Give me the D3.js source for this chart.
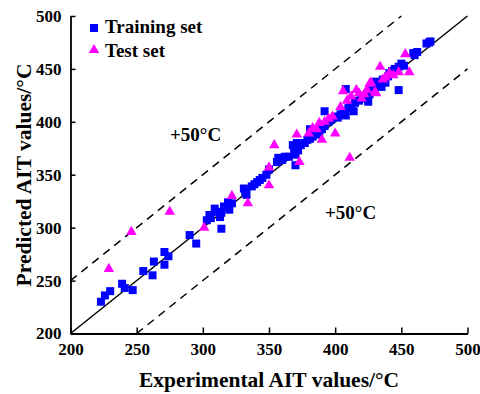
<!DOCTYPE html>
<html><head><meta charset="utf-8">
<script src="https://cdn.jsdelivr.net/npm/d3@7"></script>
<style>body{margin:0;background:#fff}svg{display:block}text{font-family:"Liberation Serif","Times New Roman",serif;font-weight:bold}</style>
</head><body><svg id="c" width="480" height="394"></svg>
<script>
const trainExp = [223,226,230,239,241,247,255,262,263,271,274,271,290,295,303,305,306,309,310,313,314,314,316,319,320,322,331,332,333,337,339,341,343,345,348,350,356,357,360,362,365,368,370,370,372,374,377,379,381,383,386,381,388,390,392,392,395,397,400,402,404,406,408,408,410,412,414,415,418,420,423,425,426,428,430,431,433,435,436,438,440,441,443,445,448,448,450,452,459,460,462,469,472,471,371,369];
const trainPred = [230,236,240,247,243,241,259,255,268,277,273,265,293,285,307,312,309,318,315,310,299,314,320,324,317,323,337,334,331,339,341,343,345,347,350,355,362,366,364,367,367,378,359,369,373,378,380,383,384,386,388,393,390,393,396,410,400,402,405,404,407,410,431,406,413,415,410,418,420,423,422,419,426,430,432,438,435,433,440,437,443,446,448,450,452,430,455,453,465,463,466,474,476,475,380,372];
const testExp = [229,246,275,301,322,334,350,350,354,371,373,380,383,386,388,390,392,395,398,400,404,406,409,411,412,416,418,420,422,424,426,427,430,431,434,436,438,441,444,448,453,456];
const testPred = [261,296,315,300,330,323,340,357,378,388,362,389,394,393,399,383,400,403,405,389,414,429,420,366,424,430,427,422,426,430,436,437,428,427,452,440,442,446,444,447,464,447];
const tickValues = [200,250,300,350,400,450,500];
const seriesNames = ["Training set","Test set"];
const xTitle = "Experimental AIT values/°C";
const yTitle = "Predicted AIT values/°C";
const bandLabel = "+50°C";

const svg = d3.select("#c");
const x = d3.scaleLinear().domain([200,500]).range([70.5,467.5]);
const y = d3.scaleLinear().domain([200,500]).range([333.5,16]);

// reference lines
const line = d3.line().x(d=>x(d[0])).y(d=>y(d[1]));
svg.append("path").attr("d", line([[200,200],[500,500]])).attr("stroke","#000").attr("stroke-width",1.5).attr("fill","none");
svg.append("path").attr("d", line([[200,250],[450,500]])).attr("stroke","#000").attr("stroke-width",1.5).attr("stroke-dasharray","8,6").attr("fill","none");
svg.append("path").attr("d", line([[250,200],[500,450]])).attr("stroke","#000").attr("stroke-width",1.5).attr("stroke-dasharray","8,6").attr("fill","none");

// axes
const xAxis = d3.axisBottom(x).tickValues(tickValues).tickSizeInner(-6).tickSizeOuter(0).tickPadding(9);
const yAxis = d3.axisLeft(y).tickValues(tickValues).tickSizeInner(-5).tickSizeOuter(0).tickPadding(9);
const gx = svg.append("g").attr("transform","translate(0,333.5)").call(xAxis);
const gy = svg.append("g").attr("transform","translate(70.5,0)").call(yAxis);
[gx,gy].forEach(g=>{
  g.select(".domain").attr("stroke","#000").attr("stroke-width",1.8);
  g.selectAll(".tick line").attr("stroke","#000").attr("stroke-width",1.5);
  g.selectAll(".tick text").attr("font-size",17).attr("font-family","Liberation Serif").attr("font-weight","bold").attr("fill","#000");
});

// points
const sq = 8;
svg.append("g").selectAll("rect").data(trainExp.map((v,i)=>[v,trainPred[i]])).join("rect")
  .attr("x",d=>x(d[0])-sq/2).attr("y",d=>y(d[1])-sq/2).attr("width",sq).attr("height",sq).attr("fill","#0000ff");
const tri = d3.symbol().type(d3.symbolTriangle).size(48);
svg.append("g").selectAll("path").data(testExp.map((v,i)=>[v,testPred[i]])).join("path")
  .attr("d",tri).attr("transform",d=>`translate(${x(d[0])},${y(d[1])})`).attr("fill","#ff00ff");

// legend
svg.append("rect").attr("x",90).attr("y",24).attr("width",8).attr("height",8).attr("fill","#0000ff");
svg.append("text").attr("x",105).attr("y",33).attr("font-size",19).text(seriesNames[0]);
svg.append("path").attr("d",tri).attr("transform","translate(94,50)").attr("fill","#ff00ff");
svg.append("text").attr("x",105).attr("y",57).attr("font-size",19).text(seriesNames[1]);

// band labels
svg.append("text").attr("x",170).attr("y",140.5).attr("font-size",19).text(bandLabel);
svg.append("text").attr("x",325).attr("y",218.5).attr("font-size",19).text(bandLabel);

// titles
svg.append("text").attr("x",269).attr("y",387).attr("text-anchor","middle").attr("font-size",21.5).text(xTitle);
svg.append("text").attr("transform","translate(31,175) rotate(-90)").attr("text-anchor","middle").attr("font-size",21.5).text(yTitle);
</script></body></html>
